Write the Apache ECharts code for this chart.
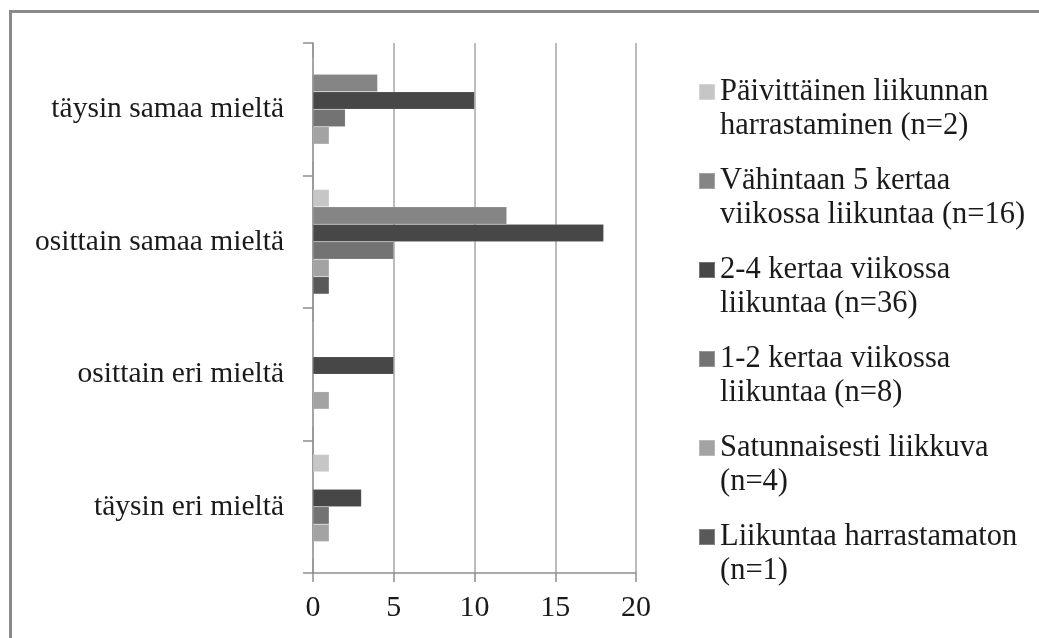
<!DOCTYPE html>
<html>
<head>
    <meta charset="utf-8">
    <title>Liikunta</title>
    <style>
        html, body { margin: 0; padding: 0; background: #fff; }
        #frame {
            position: absolute; left: 9px; top: 10px; width: 1040px; height: 640px;
            border-left: 3px solid #8a8a8a; border-top: 3px solid #8a8a8a;
        }
        #main { width: 1039px; height: 638px; }
    </style>
</head>
<body>
    <div id="frame"></div>
    <div id="main"></div>
    <script src="https://cdn.jsdelivr.net/npm/echarts@6/dist/echarts.min.js"></script>
    <script>
        // kategoriat alhaalta ylös
        var kategoriat = ['täysin eri mieltä', 'osittain eri mieltä', 'osittain samaa mieltä', 'täysin samaa mieltä'];

        var paivittainen = [1, 0, 1, 0];
        var vahintaan5 = [0, 0, 12, 4];
        var kerta24 = [3, 5, 18, 10];
        var kerta12 = [1, 0, 5, 2];
        var satunnaisesti = [1, 1, 1, 1];
        var harrastamaton = [0, 0, 1, 0];

        var sarjat = [
            'Päivittäinen liikunnan\nharrastaminen (n=2)',
            'Vähintaan 5 kertaa\nviikossa liikuntaa (n=16)',
            '2-4 kertaa viikossa\nliikuntaa (n=36)',
            '1-2 kertaa viikossa\nliikuntaa (n=8)',
            'Satunnaisesti liikkuva\n(n=4)',
            'Liikuntaa harrastamaton\n(n=1)'
        ];
        var arvot = [paivittainen, vahintaan5, kerta24, kerta12, satunnaisesti, harrastamaton];
        var xTicks = [0, 5, 10, 15, 20];

        var varit = ['#c6c6c6', '#858585', '#474747', '#737373', '#a3a3a3', '#595959'];
        var fontti = '"Liberation Serif", "DejaVu Serif", serif';

        var myChart = echarts.init(document.getElementById('main'));

        var series = sarjat.map(function (nimi, i) {
            return {
                name: nimi,
                type: 'bar',
                data: arvot[i],
                barGap: '0%',
                barCategoryGap: '21%',
                itemStyle: { color: varit[i], borderColor: 'rgba(255,255,255,0.25)', borderWidth: 0.5 },
                emphasis: { disabled: true }
            };
        });

        option = {
            backgroundColor: 'transparent',
            animation: false,
            color: varit,
            grid: { left: 313, right: 403, top: 43, bottom: 65 },
            legend: {
                orient: 'vertical',
                left: 698,
                top: 41,
                padding: 0,
                itemWidth: 16,
                itemHeight: 16,
                itemGap: -13,
                icon: 'rect',
                data: sarjat,
                // tyhjä rivi ylös, jotta merkki osuu ensimmäiselle riville
                formatter: function (name) {
                    return ' \n' + name;
                },
                textStyle: {
                    fontFamily: fontti,
                    fontSize: 30.5,
                    color: '#1a1a1a',
                    lineHeight: 34
                }
            },
            xAxis: {
                type: 'value',
                min: xTicks[0],
                max: xTicks[xTicks.length - 1],
                interval: 5,
                axisLine: { show: true, lineStyle: { color: '#8f8f8f', width: 1.5 } },
                axisTick: { show: true, length: 9, lineStyle: { color: '#8f8f8f', width: 1.5 } },
                splitLine: { show: true, lineStyle: { color: '#a6a6a6', width: 1.5 } },
                axisLabel: { fontFamily: fontti, fontSize: 30, color: '#1a1a1a', margin: 20 }
            },
            yAxis: {
                type: 'category',
                data: kategoriat,
                axisLine: { show: true, lineStyle: { color: '#8f8f8f', width: 1.5 } },
                axisTick: { show: true, length: 10, lineStyle: { color: '#8f8f8f', width: 1.5 } },
                axisLabel: { fontFamily: fontti, fontSize: 29.5, color: '#1a1a1a', margin: 29 }
            },
            series: series
        };
        myChart.setOption(option);
    </script>
</body>
</html>
